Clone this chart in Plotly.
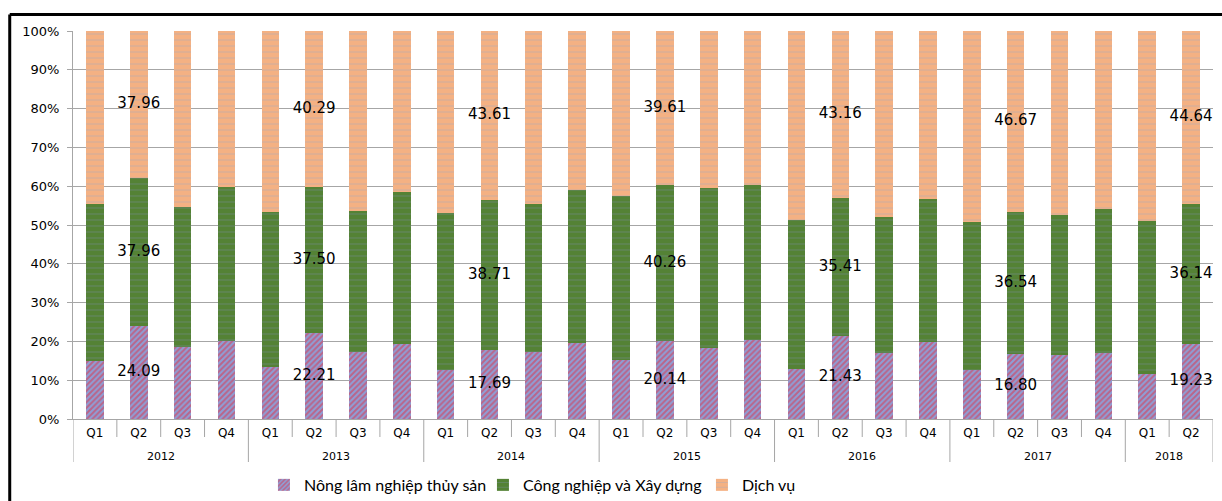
import plotly.graph_objects as go

# Quarterly GDP structure by sector (%), 2012 Q1 – 2018 Q2
years = ["2012"] * 4 + ["2013"] * 4 + ["2014"] * 4 + ["2015"] * 4 + ["2016"] * 4 + ["2017"] * 4 + ["2018"] * 2
quarters = ["Q1", "Q2", "Q3", "Q4"] * 6 + ["Q1", "Q2"]

nong_lam = [15.0, 24.09, 18.5, 20.2,
            13.3, 22.21, 17.3, 19.4,
            12.7, 17.69, 17.3, 19.5,
            15.1, 20.14, 18.2, 20.4,
            12.8, 21.43, 16.9, 19.9,
            12.6, 16.80, 16.4, 17.0,
            11.6, 19.23]
cong_nghiep = [40.5, 37.96, 36.1, 39.5,
               40.0, 37.50, 36.4, 39.2,
               40.4, 38.71, 38.0, 39.4,
               42.5, 40.26, 41.3, 39.8,
               38.4, 35.41, 35.2, 36.7,
               38.1, 36.54, 36.1, 37.1,
               39.4, 36.14]
dich_vu = [44.5, 37.96, 45.4, 40.3,
           46.7, 40.29, 46.3, 41.4,
           46.9, 43.61, 44.7, 41.1,
           42.4, 39.61, 40.5, 39.8,
           48.8, 43.16, 47.9, 43.4,
           49.3, 46.67, 47.5, 45.9,
           49.0, 44.64]

series_names = ["Nông lâm nghiệp thủy sản", "Công nghiệp và Xây dựng", "Dịch vụ"]
y_ticks = list(range(0, 101, 10))

# one unique category per quarter; the axis shows only the quarter name
cats = [f"{y} {q}" for y, q in zip(years, quarters)]

PLOT_H = 501 - 31 - 82          # plot-area height in px, for px offsets below the axis
GRID = "#A6A6A6"

fig = go.Figure()
fig.add_bar(x=cats, y=nong_lam, name=series_names[0],
            marker=dict(color="#8E9FD6", line=dict(width=0),
                        pattern=dict(shape="/", fgcolor="#E62A3C", bgcolor="#8E9FD6",
                                     size=4, solidity=0.5)))
fig.add_bar(x=cats, y=cong_nghiep, name=series_names[1],
            marker=dict(color="#548235", line=dict(width=0),
                        pattern=dict(shape="-", fgcolor="#7B8FA8", bgcolor="#548235",
                                     size=6, solidity=0.15)))
fig.add_bar(x=cats, y=dich_vu, name=series_names[2],
            marker=dict(color="#F4B183", line=dict(width=0),
                        pattern=dict(shape="-", fgcolor="#9AA9C2", bgcolor="#F4B183",
                                     size=6, solidity=0.15)))

# value labels for the second quarter of each year, centred in each segment
q2 = [i for i, q in enumerate(quarters) if q == "Q2"]
stack = [nong_lam, cong_nghiep, dich_vu]
for k, series in enumerate(stack):
    ys, txt = [], []
    for i in q2:
        base = sum(s[i] for s in stack[:k])
        ys.append(base + series[i] / 2)
        txt.append(f"{series[i]:.2f}")
    fig.add_scatter(x=[cats[i] for i in q2], y=ys, text=txt, mode="text", showlegend=False,
                    textposition="middle center", hoverinfo="skip",
                    textfont=dict(family="DejaVu Sans", size=15, color="#000000"))

# category boundaries: short ticks between quarters, long dividers between years
n = len(cats)
for i in range(n + 1):
    new_year = i == 0 or i == n or years[i] != years[i - 1]
    depth = 43 if new_year else 18
    fig.add_shape(type="line", xref="x", yref="paper", x0=i - 0.5, x1=i - 0.5,
                  y0=0, y1=-depth / PLOT_H, line=dict(color=GRID, width=1))

# year labels centred under their quarters
for yr in dict.fromkeys(years):
    idx = [i for i, y in enumerate(years) if y == yr]
    fig.add_annotation(x=(idx[0] + idx[-1]) / 2, xref="x", y=-37 / PLOT_H, yref="paper",
                       text=yr, showarrow=False, yanchor="middle",
                       font=dict(family="DejaVu Sans", size=11, color="#000000"))

# outer frame of the chart
frame = dict(color="#000000", width=3)
fig.add_shape(type="line", xref="paper", yref="paper", x0=-0.0555, x1=-0.0555, y0=1.0425, y1=-0.25, line=frame)
fig.add_shape(type="line", xref="paper", yref="paper", x0=-0.0555, x1=1.05, y0=1.0425, y1=1.0425, line=frame)

fig.update_layout(
    width=1222, height=501,
    barmode="stack", barnorm="percent", bargap=0.6,
    plot_bgcolor="#FFFFFF", paper_bgcolor="#FFFFFF",
    margin=dict(l=73, r=9, t=31, b=82, autoexpand=False),
    font=dict(family="DejaVu Sans", color="#000000"),
    showlegend=True,
    legend=dict(orientation="h", x=0.1675, xanchor="left", y=-0.17, yanchor="middle",
                font=dict(family="Lato", size=16, color="#000000"),
                entrywidth=174, entrywidthmode="pixels",
                itemsizing="constant", traceorder="normal"),
)
fig.update_xaxes(type="category", range=[-0.5, n - 0.5], automargin=False,
                 tickvals=cats, ticktext=quarters,
                 showline=True, linecolor=GRID, linewidth=1, ticks="",
                 ticklabelstandoff=3,
                 tickfont=dict(size=12, color="#000000"), showgrid=False)
fig.update_yaxes(range=[0, 100], tickvals=y_ticks, ticktext=[f"{v}%" for v in y_ticks],
                 automargin=False,
                 showgrid=True, gridcolor=GRID, gridwidth=1,
                 showline=True, linecolor=GRID, ticks="outside", ticklen=5,
                 ticklabelstandoff=5,
                 tickcolor=GRID, tickfont=dict(size=13, color="#000000"),
                 zeroline=False)

fig.write_html("out.html")
